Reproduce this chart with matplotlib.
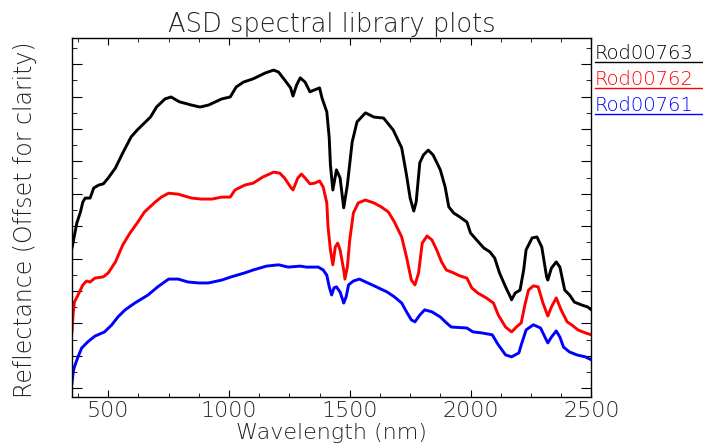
import numpy as np
import matplotlib
matplotlib.use('Agg')
import matplotlib.pyplot as plt
from matplotlib.ticker import MultipleLocator
from matplotlib.lines import Line2D

# espectros (reflectancia com deslocamento)
wl_763 = [350, 370, 385, 395, 405, 425, 440, 460, 480, 500, 530, 560, 595, 620, 675, 700,
          735, 760, 795, 845, 880, 915, 970, 1005, 1030, 1060, 1100, 1150, 1185, 1205, 1230,
          1255, 1265, 1280, 1295, 1315, 1335, 1355, 1375, 1385, 1405, 1415, 1420, 1430, 1445,
          1460, 1475, 1490, 1510, 1530, 1565, 1600, 1640, 1680, 1715, 1735, 1750, 1765, 1775,
          1790, 1805, 1825, 1845, 1875, 1895, 1910, 1930, 1955, 1985, 2000, 2025, 2055, 2080,
          2100, 2120, 2145, 2165, 2170, 2185, 2205, 2220, 2230, 2255, 2275, 2295, 2315, 2320,
          2335, 2355, 2370, 2390, 2410, 2430, 2460, 2485, 2500]
r_763 = [0.433, 0.510, 0.544, 0.575, 0.587, 0.587, 0.618, 0.627, 0.631, 0.649, 0.680, 0.726,
         0.776, 0.797, 0.837, 0.868, 0.893, 0.899, 0.884, 0.874, 0.868, 0.874, 0.893, 0.899,
         0.930, 0.945, 0.955, 0.973, 0.982, 0.976, 0.952, 0.927, 0.902, 0.936, 0.958, 0.945,
         0.915, 0.921, 0.927, 0.896, 0.853, 0.773, 0.689, 0.612, 0.674, 0.649, 0.557, 0.627,
         0.760, 0.822, 0.850, 0.837, 0.834, 0.797, 0.742, 0.658, 0.587, 0.547, 0.575, 0.696,
         0.720, 0.735, 0.720, 0.674, 0.621, 0.560, 0.541, 0.529, 0.513, 0.479, 0.458, 0.433,
         0.421, 0.402, 0.356, 0.313, 0.282, 0.273, 0.294, 0.303, 0.365, 0.427, 0.464, 0.467,
         0.436, 0.344, 0.334, 0.371, 0.390, 0.374, 0.303, 0.288, 0.266, 0.257, 0.251, 0.242]

wl_762 = [350, 355, 360, 375, 395, 410, 425, 445, 480, 500, 530, 560, 590, 620, 650, 695,
          720, 750, 790, 845, 885, 930, 970, 1005, 1025, 1065, 1100, 1140, 1185, 1210, 1230,
          1255, 1265, 1285, 1300, 1315, 1335, 1355, 1375, 1390, 1405, 1410, 1420, 1430, 1440,
          1450, 1460, 1475, 1480, 1490, 1500, 1515, 1535, 1565, 1600, 1630, 1660, 1685, 1715,
          1735, 1755, 1770, 1785, 1800, 1820, 1840, 1860, 1880, 1900, 1930, 1955, 1985, 2005,
          2030, 2065, 2095, 2115, 2145, 2170, 2190, 2210, 2225, 2240, 2260, 2280, 2300, 2320,
          2335, 2355, 2375, 2400, 2420, 2445, 2475, 2500]
r_762 = [0.175, 0.232, 0.266, 0.288, 0.319, 0.331, 0.328, 0.340, 0.344, 0.356, 0.390, 0.442,
         0.479, 0.510, 0.544, 0.575, 0.590, 0.602, 0.599, 0.587, 0.584, 0.584, 0.590, 0.590,
         0.612, 0.627, 0.633, 0.652, 0.667, 0.664, 0.649, 0.621, 0.612, 0.649, 0.661, 0.649,
         0.631, 0.633, 0.640, 0.621, 0.572, 0.498, 0.427, 0.381, 0.436, 0.448, 0.427, 0.365,
         0.337, 0.374, 0.458, 0.541, 0.572, 0.581, 0.572, 0.560, 0.544, 0.513, 0.467, 0.405,
         0.334, 0.319, 0.356, 0.448, 0.470, 0.458, 0.427, 0.390, 0.365, 0.356, 0.347, 0.340,
         0.310, 0.294, 0.279, 0.263, 0.226, 0.189, 0.174, 0.189, 0.202, 0.257, 0.303, 0.316,
         0.313, 0.263, 0.223, 0.251, 0.279, 0.242, 0.205, 0.195, 0.180, 0.171, 0.165]

wl_761 = [350, 355, 360, 375, 390, 415, 445, 485, 515, 540, 570, 610, 665, 705, 750, 790,
          830, 875, 915, 970, 1010, 1065, 1100, 1155, 1205, 1245, 1295, 1320, 1370, 1390,
          1405, 1415, 1425, 1435, 1445, 1460, 1475, 1485, 1495, 1515, 1540, 1575, 1610, 1655,
          1685, 1715, 1735, 1755, 1770, 1790, 1810, 1840, 1875, 1900, 1920, 1985, 2010, 2045,
          2090, 2115, 2145, 2170, 2200, 2210, 2230, 2260, 2290, 2310, 2320, 2335, 2355, 2370,
          2385, 2410, 2440, 2475, 2500]
r_761 = [0.016, 0.050, 0.066, 0.097, 0.124, 0.143, 0.161, 0.174, 0.196, 0.220, 0.242, 0.263,
         0.288, 0.313, 0.337, 0.337, 0.328, 0.325, 0.325, 0.334, 0.344, 0.356, 0.365, 0.377,
         0.381, 0.374, 0.377, 0.374, 0.374, 0.365, 0.349, 0.313, 0.288, 0.310, 0.313, 0.297,
         0.263, 0.282, 0.319, 0.331, 0.337, 0.325, 0.313, 0.297, 0.282, 0.263, 0.236, 0.211,
         0.205, 0.226, 0.242, 0.236, 0.220, 0.202, 0.189, 0.186, 0.174, 0.171, 0.165, 0.134,
         0.103, 0.097, 0.109, 0.134, 0.180, 0.196, 0.186, 0.155, 0.140, 0.158, 0.177, 0.158,
         0.127, 0.112, 0.103, 0.097, 0.088]

nomes = ['Rod00763', 'Rod00762', 'Rod00761']
cores = ['black', 'red', 'blue']

plt.rcParams['font.family'] = 'DejaVu Sans'
cinza = '#222222'

fig = plt.figure(figsize=(7.03, 4.43), dpi=100)
ax = fig.add_axes([0.1024, 0.1038, 0.7387, 0.8104])

for wl, r, c in zip([wl_763, wl_762, wl_761], [r_763, r_762, r_761], cores):
    ax.plot(wl, r, color=c, lw=2.1)

ax.set_xlim(350, 2500)
ax.set_ylim(-0.027, 1.081)
ax.set_xticks([500, 1000, 1500, 2000, 2500])
ax.xaxis.set_minor_locator(MultipleLocator(125))
ax.yaxis.set_major_locator(MultipleLocator(0.1))
ax.yaxis.set_minor_locator(MultipleLocator(0.05))
ax.tick_params(which='both', direction='in', top=True, right=True, colors='black',
               labelleft=False, labelcolor=cinza)
ax.tick_params(axis='x', which='major', length=5, labelsize=16, pad=3)
ax.tick_params(axis='x', which='minor', length=3)
ax.tick_params(axis='y', which='major', length=7)
ax.tick_params(axis='y', which='minor', length=3.6)
for lbl in ax.get_xticklabels():
    lbl.set_fontweight('light')
for s in ax.spines.values():
    s.set_linewidth(1)

fig.text(0.4716, 0.9284, 'ASD spectral library plots', ha='center', va='baseline',
         fontsize=18.5, color=cinza, fontweight='light')
fig.text(0.4716, 0.009, 'Wavelength (nm)', ha='center', va='baseline',
         fontsize=16, color=cinza, fontweight='light')
fig.text(0.0356, 0.5034, 'Reflectance (Offset for clarity)', ha='center', va='center',
         rotation=90, fontsize=17, color=cinza, fontweight='light')

# legenda ao estilo IDL: texto sublinhado
y_txt = [0.8668, 0.8081, 0.7494]
y_lin = [0.8600, 0.8007, 0.7420]
for nome, c, yt, yl in zip(nomes, cores, y_txt, y_lin):
    fig.text(0.8464, yt, nome, color=c, fontsize=14, va='baseline', ha='left',
             fontweight='light')
    fig.add_artist(Line2D([0.8464, 1.0], [yl, yl], color=c, lw=1,
                          transform=fig.transFigure))

fig.savefig('out.png', dpi=100)
